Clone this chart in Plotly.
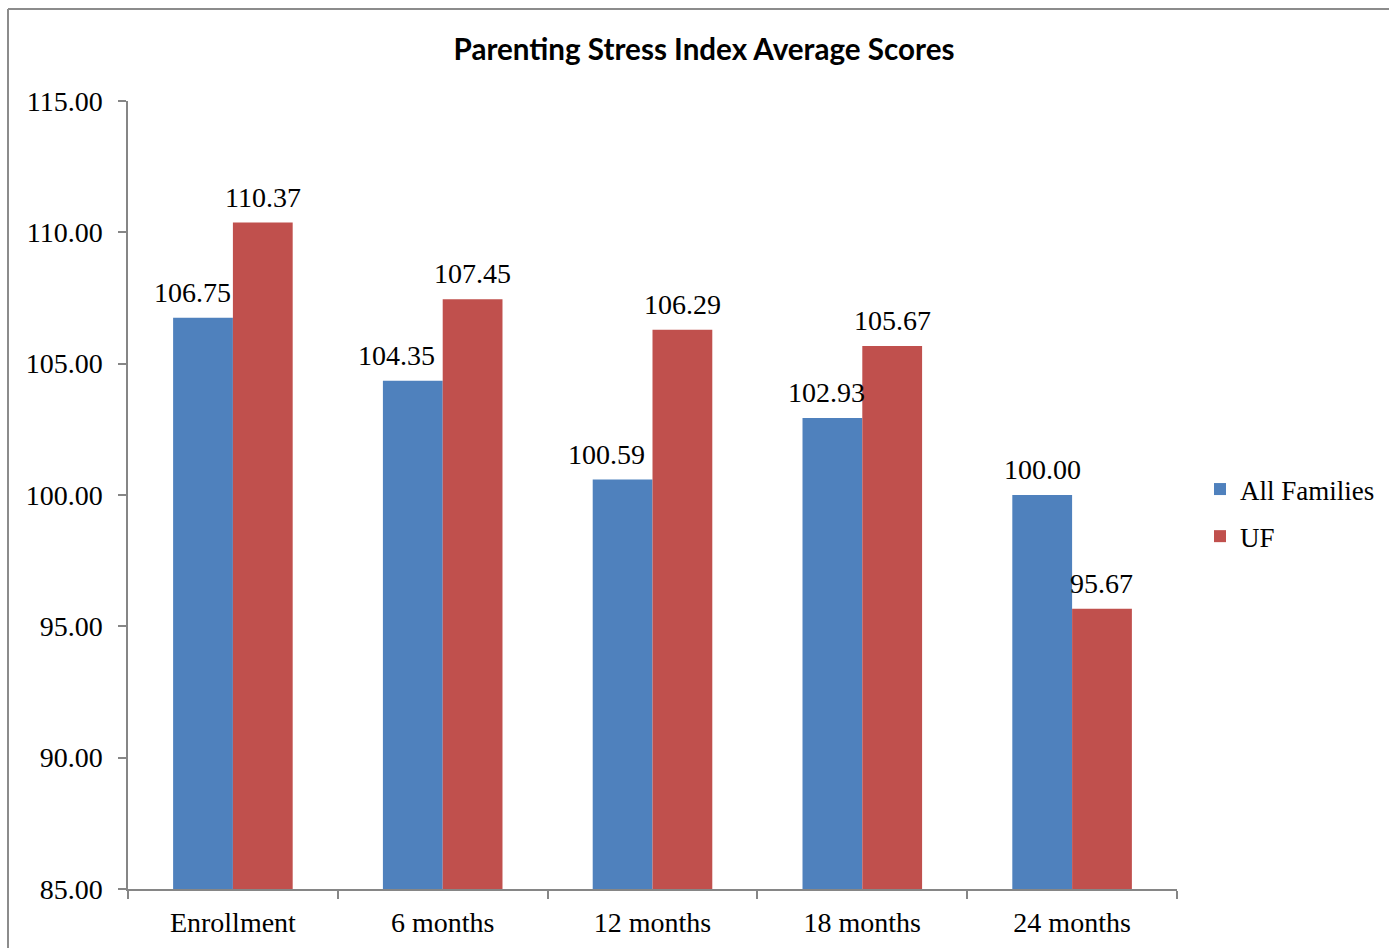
import plotly.graph_objects as go

categories = ["Enrollment", "6 months", "12 months", "18 months", "24 months"]
all_families = [106.75, 104.35, 100.59, 102.93, 100.00]
uf = [110.37, 107.45, 106.29, 105.67, 95.67]
series_names = ["All Families", "UF"]
colors = ["#4F81BD", "#C0504D"]

# label nudges (px) used by the original chart to avoid collisions
label_nudge = [[-11, -16, -16, -6, 0], [0, 0, 0, 0, 0]]

W, H = 1389, 948
L, R, T, B = 128, 212, 101, 59
pw, ph = W - L - R, H - T - B
BARGAP = 0.43

serif = "Liberation Serif"
fs = 28

fig = go.Figure()
for i, (name, vals, c) in enumerate(zip(series_names, [all_families, uf], colors)):
    fig.add_trace(go.Bar(
        x=categories, y=vals, name=name, legendgroup=f"g{i}",
        marker=dict(color=c, line=dict(width=0)),
    ))

# data labels on top of all bars
cat_px = pw / len(categories)
bar_px = cat_px * (1 - BARGAP) / 2
for i, vals in enumerate([all_families, uf]):
    off = (i - 0.5) * bar_px
    for j, (cat, v) in enumerate(zip(categories, vals)):
        fig.add_annotation(
            x=cat, y=v, xref="x", yref="y", text=f"{v:.2f}", showarrow=False,
            xanchor="center", yanchor="bottom",
            xshift=off + label_nudge[i][j], yshift=8,
            font=dict(family=serif, size=fs, color="#000"),
        )

def px_x(p):
    return (p - L) / pw

def px_y(p):
    return (H - B - p) / ph

fig.update_layout(
    width=W, height=H,
    margin=dict(l=L, r=R, t=T, b=B, autoexpand=False),
    paper_bgcolor="white", plot_bgcolor="white",
    barmode="group", bargap=BARGAP, bargroupgap=0,
    title=dict(text="<b>Parenting Stress Index Average Scores</b>",
               xref="container", x=704 / W, xanchor="center",
               yref="container", y=1 - 50 / H, yanchor="middle",
               font=dict(family="Lato", size=29.6, color="#000")),
    font=dict(family=serif, size=fs, color="#000"),
    legend=dict(x=px_x(1200), xanchor="left", y=px_y(513), yanchor="middle",
                font=dict(family=serif, size=27, color="#000"),
                itemwidth=30, tracegroupgap=9),
    showlegend=True,
)

fig.update_yaxes(range=[85, 115], dtick=5, tickformat=".2f",
                 showgrid=False, zeroline=False,
                 showline=True, linecolor="#868686", linewidth=1.5,
                 ticks="outside", ticklen=8, tickcolor="#868686", tickwidth=1.5,
                 ticklabelstandoff=10,
                 tickfont=dict(family=serif, size=fs, color="#000"))
fig.update_xaxes(showgrid=False, showline=True, linecolor="#868686", linewidth=1.5,
                 ticks="outside", ticklen=8, tickcolor="#868686", tickwidth=1.5,
                 tickson="boundaries", ticklabelstandoff=8,
                 tickfont=dict(family=serif, size=fs, color="#000"))

# figure frame (top and left visible in reference)
fig.add_shape(type="line", xref="paper", yref="paper",
              x0=px_x(8), x1=px_x(8), y0=px_y(960), y1=px_y(9),
              line=dict(color="#8c8c8c", width=2))
fig.add_shape(type="line", xref="paper", yref="paper",
              x0=px_x(8), x1=px_x(1400), y0=px_y(9), y1=px_y(9),
              line=dict(color="#8c8c8c", width=2))

fig.write_html("out.html", config={"displayModeBar": False},
               post_script="document.body.style.margin='0';document.body.style.overflow='hidden';")
